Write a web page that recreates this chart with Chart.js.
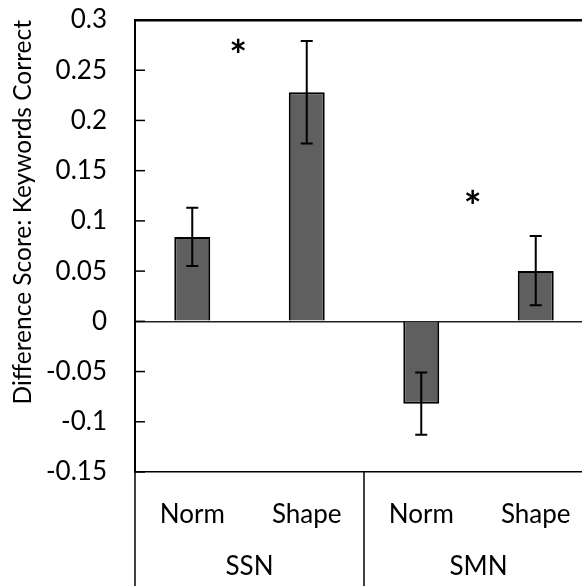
<!DOCTYPE html>
<html>
<head>
<meta charset="utf-8">
<script src="https://cdn.jsdelivr.net/npm/chart.js@4"></script>
<style>
html, body { margin: 0; padding: 0; overflow: hidden; background: #fff; }
#wrap { width: 600px; height: 586px; position: relative; }
</style>
</head>
<body>
<div id="wrap"><canvas id="chart"></canvas></div>
<script>
// data
var conditions = ['Norm', 'Shape', 'Norm', 'Shape'];
var groups = ['SSN', 'SMN'];
var scores = [0.084, 0.228, -0.082, 0.050];
var errLow = [0.055, 0.177, -0.113, 0.016];
var errHigh = [0.113, 0.279, -0.051, 0.085];
// significance stars: [category position, value]
var starPos = [0.40, 2.45];
var starVal = [0.275, 0.124];

var FONT = 'Lato, "Liberation Sans", sans-serif';
var FSIZE = 26;

var extrasPlugin = {
    id: 'extras',
    afterDatasetsDraw: function(chart){
        var ctx = chart.ctx;
        var x = chart.scales.x, y = chart.scales.y;
        var area = chart.chartArea;
        ctx.save();
        // inward tick marks on the value axis
        ctx.strokeStyle = '#000';
        ctx.lineWidth = 1.5;
        y.ticks.forEach(function(t){
            var py = y.getPixelForValue(t.value);
            ctx.beginPath();
            ctx.moveTo(area.left, py);
            ctx.lineTo(area.left + 10, py);
            ctx.stroke();
        });
        // group separators under the axis
        var step = x.getPixelForValue(1) - x.getPixelForValue(0);
        var bounds = [x.getPixelForValue(0) - step / 2,
                      (x.getPixelForValue(1) + x.getPixelForValue(2)) / 2,
                      x.getPixelForValue(3) + step / 2];
        bounds.forEach(function(bx){
            ctx.beginPath();
            ctx.moveTo(bx, area.bottom);
            ctx.lineTo(bx, chart.height);
            ctx.stroke();
        });
        // error bars
        ctx.lineWidth = 2;
        for(var i = 0; i < scores.length; i++){
            var px = x.getPixelForValue(i);
            var lo = y.getPixelForValue(errLow[i]);
            var hi = y.getPixelForValue(errHigh[i]);
            ctx.beginPath();
            ctx.moveTo(px, lo); ctx.lineTo(px, hi);
            ctx.moveTo(px - 6, lo); ctx.lineTo(px + 6, lo);
            ctx.moveTo(px - 6, hi); ctx.lineTo(px + 6, hi);
            ctx.stroke();
        }
        // significance stars, glyph centred on the value
        ctx.fillStyle = '#000';
        ctx.font = 'bold 42px ' + FONT;
        ctx.textAlign = 'center';
        ctx.textBaseline = 'alphabetic';
        var m = ctx.measureText('*');
        var off = (m.actualBoundingBoxAscent - m.actualBoundingBoxDescent) / 2;
        for(var s = 0; s < starPos.length; s++){
            var sx = x.getPixelForValue(0) + starPos[s] * step;
            ctx.fillText('*', sx, y.getPixelForValue(starVal[s]) + off);
        }
        ctx.restore();
    }
};

new Chart(document.getElementById('chart').getContext('2d'), {
    type: 'bar',
    data: {
        labels: conditions,
        datasets: [{
            data: scores,
            backgroundColor: '#5f5f5f',
            borderColor: '#000',
            borderWidth: 2,
            barPercentage: 0.314,
            categoryPercentage: 1
        }]
    },
    options: {
        responsive: true,
        maintainAspectRatio: false,
        animation: false,
        layout: { padding: { top: 20, right: 7, left: 0, bottom: 0 } },
        plugins: { legend: { display: false }, tooltip: { enabled: false } },
        scales: {
            x: {
                grid: { display: false },
                border: { display: true, color: '#000', width: 1.5 },
                ticks: { color: '#000', font: { family: FONT, size: FSIZE }, padding: 19, maxRotation: 0 },
                afterFit: function(s){ s.height = 60; s.paddingLeft = 0; s.paddingRight = 0; }
            },
            x2: {
                type: 'category',
                position: 'bottom',
                labels: groups,
                grid: { display: false },
                border: { display: false },
                ticks: { color: '#000', font: { family: FONT, size: FSIZE }, padding: 11 },
                afterFit: function(s){ s.height = 54; s.paddingLeft = 0; s.paddingRight = 0; }
            },
            y: {
                min: -0.15,
                max: 0.3,
                ticks: {
                    stepSize: 0.05,
                    padding: 28,
                    color: '#000',
                    font: { family: FONT, size: FSIZE },
                    callback: function(v){ return String(Math.round(v * 100) / 100); }
                },
                grid: {
                    drawTicks: false,
                    color: function(c){
                        if(c.tick && Math.abs(c.tick.value) < 1e-9) return '#222';
                        if(c.tick && Math.abs(c.tick.value - 0.3) < 1e-9) return '#000';
                        return 'rgba(0,0,0,0)';
                    },
                    lineWidth: function(c){
                        if(c.tick && Math.abs(c.tick.value - 0.3) < 1e-9) return 2.5;
                        return 1.5;
                    }
                },
                border: { display: true, color: '#000', width: 2 },
                title: {
                    display: true,
                    text: 'Difference Score: Keywords Correct',
                    align: 'end',
                    color: '#000',
                    font: { family: FONT, size: 24.5 },
                    padding: { top: 8, bottom: 0 }
                },
                afterFit: function(s){ s.width = 135; s.paddingTop = 0; s.paddingBottom = 0; }
            }
        }
    },
    plugins: [extrasPlugin]
});
</script>
</body>
</html>
